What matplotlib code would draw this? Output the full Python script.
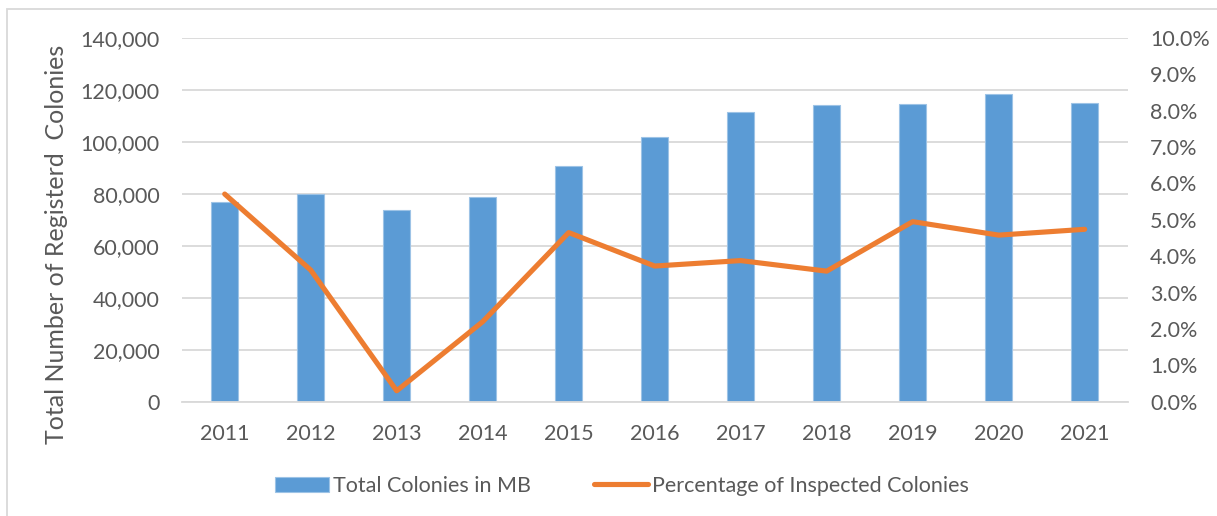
import matplotlib
matplotlib.use("Agg")
import matplotlib.pyplot as plt
from matplotlib.ticker import FuncFormatter, MultipleLocator
from matplotlib.patches import Rectangle

years = ["2011", "2012", "2013", "2014", "2015", "2016", "2017", "2018", "2019", "2020", "2021"]
total_colonies = [76900, 80000, 73700, 78700, 90900, 101900, 111700, 114100, 114500, 118600, 114800]
pct_inspected = [5.71, 3.62, 0.30, 2.20, 4.65, 3.73, 3.88, 3.59, 4.95, 4.58, 4.74]

bar_label = "Total Colonies in MB"
line_label = "Percentage of Inspected Colonies"
ylabel = "Total Number of Registerd  Colonies"

plt.rcParams['font.family'] = ['Lato', 'DejaVu Sans']
text_color = "#595959"
grid_color = "#D9D9D9"
bar_color = "#5B9BD5"
line_color = "#ED7D31"
fs = 15.5

fig = plt.figure(figsize=(12.17, 5.16), dpi=100)
ax = fig.add_axes([181.7/1217, 1-401.7/516, (1127.7-181.7)/1217, (401.7-38)/516])

x = list(range(len(years)))
ax.bar(x, total_colonies, width=0.31, color=bar_color, edgecolor="#9DC3E6", linewidth=0.8, zorder=2, label=bar_label)
ax.set_xlim(-0.5, len(years)-0.5)
ax.set_ylim(0, 140000)
ax.yaxis.set_major_locator(MultipleLocator(20000))
ax.yaxis.set_major_formatter(FuncFormatter(lambda v, p: f"{int(v):,}"))
ax.grid(axis='y', color=grid_color, linewidth=1.3, zorder=0)
ax.set_axisbelow(True)
for s in ['top', 'right', 'left']:
    ax.spines[s].set_visible(False)
ax.spines['bottom'].set_color(grid_color)
ax.spines['bottom'].set_linewidth(1.3)
ax.set_xticks(x)
ax.set_xticklabels(years)
ax.tick_params(axis='both', length=0, labelsize=fs, colors=text_color)
ax.tick_params(axis='x', pad=16)
ax.tick_params(axis='y', pad=16)

fig.text(57/1217, 1-244/516, ylabel, rotation=90, ha='center', va='center',
         fontsize=18, color=text_color)

ax2 = ax.twinx()
ax2.plot(x, pct_inspected, color=line_color, linewidth=3.7, solid_capstyle='round', solid_joinstyle='round', zorder=3, label=line_label)
ax2.set_ylim(0, 10)
ax2.yaxis.set_major_locator(MultipleLocator(1))
ax2.yaxis.set_major_formatter(FuncFormatter(lambda v, p: f"{v:.1f}%"))
for s in ['top', 'right', 'left', 'bottom']:
    ax2.spines[s].set_visible(False)
ax2.tick_params(axis='y', length=0, labelsize=fs, colors=text_color, pad=16)

h1, l1 = ax.get_legend_handles_labels()
h2, l2 = ax2.get_legend_handles_labels()
leg = fig.legend(h1 + h2, l1 + l2, loc='center', bbox_to_anchor=(622/1217, 1-486/516),
                 ncol=2, frameon=False, fontsize=fs, handlelength=2.5, handletextpad=0.2,
                 columnspacing=2.9, labelcolor=text_color)

fig.patches.append(Rectangle((7/1217, -0.1), 1.1, (1-9/516)+0.1, transform=fig.transFigure,
                             fill=False, edgecolor=grid_color, linewidth=1.3))

fig.savefig("out.png", dpi=100)
